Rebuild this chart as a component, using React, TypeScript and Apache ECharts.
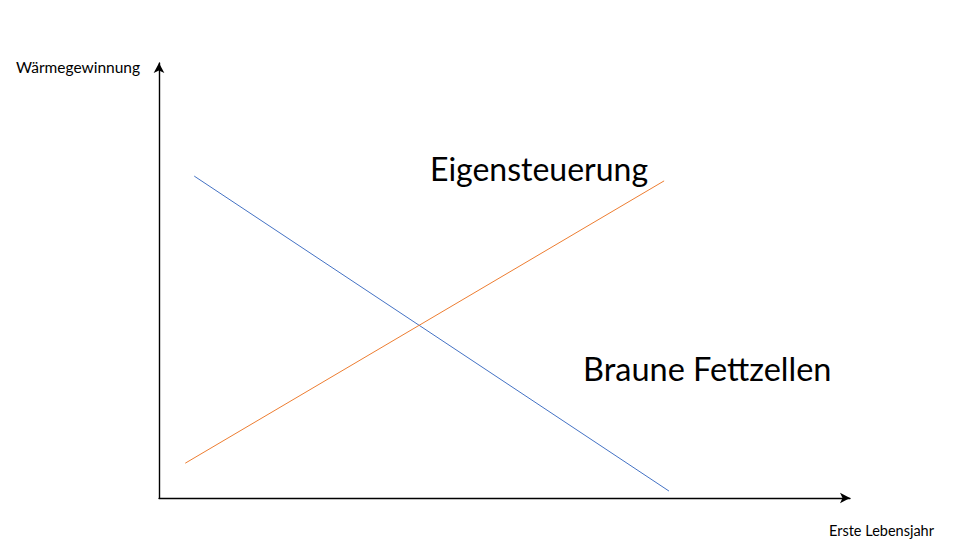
import React, { useEffect, useRef } from "react";
import * as echarts from "echarts";

const blueLine: [number, number][] = [
  [5.1, 74.0],
  [73.8, 1.6],
];
const orangeLine: [number, number][] = [
  [3.8, 8.0],
  [73.1, 72.9],
];
const yAxisTitle = "Wärmegewinnung";
const xAxisTitle = "Erste Lebensjahr";
const labelOrange = "Eigensteuerung";
const labelBlue = "Braune Fettzellen";

export default function App() {
  const ref = useRef<HTMLDivElement>(null);
  useEffect(() => {
    document.body.style.margin = "0";
    const chart = echarts.init(ref.current!, undefined, { renderer: "svg" });
    const font = "Lato, 'Noto Sans', sans-serif";
    chart.setOption({
      animation: false,
      backgroundColor: "#ffffff",
      grid: { left: 159, right: 116, top: 63, bottom: 60 },
      xAxis: {
        type: "value",
        min: 0,
        max: 100,
        axisLine: { show: true, symbol: ["none", "arrow"], symbolSize: [8, 10], lineStyle: { color: "#000", width: 1.4 } },
        axisTick: { show: false },
        axisLabel: { show: false },
        splitLine: { show: false },
      },
      yAxis: {
        type: "value",
        min: 0,
        max: 100,
        axisLine: { show: true, symbol: ["none", "arrow"], symbolSize: [8, 10], lineStyle: { color: "#000", width: 1.4 } },
        axisTick: { show: false },
        axisLabel: { show: false },
        splitLine: { show: false },
      },
      series: [
        {
          type: "line",
          data: blueLine,
          showSymbol: false,
          lineStyle: { color: "#4472C4", width: 1 },
        },
        {
          type: "line",
          data: orangeLine,
          showSymbol: false,
          lineStyle: { color: "#ED7D31", width: 1 },
        },
      ],
      graphic: [
        { type: "text", left: 16, top: 59, style: { text: yAxisTitle, font: `15.5px ${font}`, fill: "#000" } },
        { type: "text", left: 829, top: 523, style: { text: xAxisTitle, font: `14.5px ${font}`, fill: "#000" } },
        { type: "text", left: 430, top: 152, style: { text: labelOrange, font: `32px ${font}`, fill: "#000" } },
        { type: "text", left: 583, top: 352, style: { text: labelBlue, font: `32.5px ${font}`, fill: "#000" } },
      ],
    });
    return () => chart.dispose();
  }, []);
  return <div ref={ref} style={{ width: 966, height: 558 }} />;
}
